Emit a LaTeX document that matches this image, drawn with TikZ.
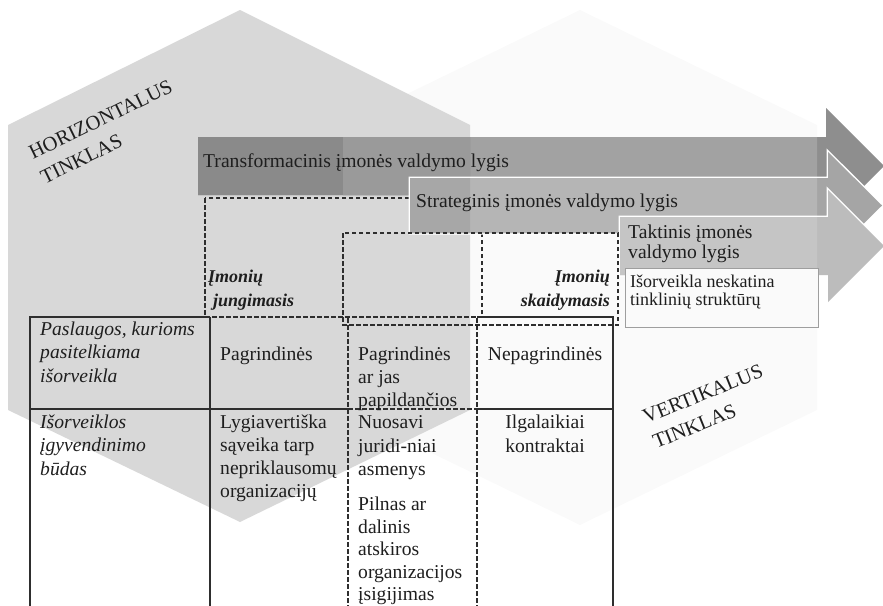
\documentclass[tikz,border=0pt]{standalone}
\usepackage{fontspec}
\setmainfont{Liberation Serif}
\definecolor{ink}{HTML}{1E1E1E}
\definecolor{rule}{HTML}{2E2E2E}
\definecolor{hexL}{HTML}{D8D8D8}
\definecolor{hexR}{HTML}{FAFAFA}
% arrow tones: over white / right field / left field / both fields
\definecolor{aOneW}{HTML}{8E8E8E}
\definecolor{aOneR}{HTML}{A2A2A2}
\definecolor{aOneL}{HTML}{8A8A8A}
\definecolor{aOneB}{HTML}{9A9A9A}
\definecolor{aTwoW}{HTML}{A5A5A5}
\definecolor{aTwoR}{HTML}{B5B5B5}
\definecolor{aTwoB}{HTML}{A7A7A7}
\definecolor{aThreeW}{HTML}{BCBCBC}
\definecolor{aThreeR}{HTML}{C5C5C5}
\begin{document}
\begin{tikzpicture}[x=1pt,y=-1pt,
  body/.style={font=\fontsize{19.6}{23}\selectfont, text=ink, inner sep=0pt, anchor=base west},
  bodyit/.style={body, font=\fontsize{19.6}{23}\selectfont\itshape},
  bodyc/.style={body, anchor=base},
  small/.style={body, font=\fontsize{18}{18}\selectfont},
  merge/.style={body, font=\fontsize{18}{24}\selectfont\bfseries\itshape},
  mergeR/.style={merge, anchor=base east},
  net/.style={body, font=\fontsize{20.5}{27}\selectfont},
  solidrule/.style={draw=rule, line width=1.2pt},
  dashrule/.style={draw=rule, line width=1.1pt, dash pattern=on 4.5pt off 2.5pt},
  outline/.style={draw=white, line width=3pt, line join=miter}]
\useasboundingbox (0,0) rectangle (883,605);

% hexagon corners
\coordinate (L1) at (240,10);  \coordinate (L2) at (470,125);
\coordinate (L3) at (470,410); \coordinate (L4) at (240,522);
\coordinate (L5) at (8,410);   \coordinate (L6) at (8,125);
\coordinate (R1) at (580,10);  \coordinate (R2) at (817,125);
\coordinate (R3) at (817,410); \coordinate (R4) at (580,525);
\coordinate (R5) at (343,410); \coordinate (R6) at (343,125);
\def\HexLeft{(L1) -- (L2) -- (L3) -- (L4) -- (L5) -- (L6) -- cycle}
\def\HexRight{(R1) -- (R2) -- (R3) -- (R4) -- (R5) -- (R6) -- cycle}

% the two networks
\fill[hexR] \HexRight;
\fill[hexL] \HexLeft;

% merging frame
\draw[dashrule] (205,198) rectangle (482,317);

% management level arrows
\def\ArrowOne{(198,137) -- (826,137) -- (826,108) -- (884,166) -- (826,224) -- (826,195) -- (198,195) -- cycle}
\def\ArrowTwo{(410,178) -- (828,178) -- (828,152) -- (882,205.5) -- (828,259) -- (828,233) -- (410,233) -- cycle}
\def\ArrowThree{(620,217) -- (828,217) -- (828,190) -- (884,246) -- (828,302) -- (828,275) -- (620,275) -- cycle}

\fill[aOneW] \ArrowOne;
\begin{scope}\clip \HexRight; \fill[aOneR] \ArrowOne; \end{scope}
\begin{scope}\clip \HexLeft; \fill[aOneL] \ArrowOne; \end{scope}
\begin{scope}\clip \HexLeft; \clip \HexRight; \fill[aOneB] \ArrowOne; \end{scope}

\path[outline] \ArrowTwo;
\fill[aTwoW] \ArrowTwo;
\begin{scope}\clip \HexRight; \fill[aTwoR] \ArrowTwo; \end{scope}
\begin{scope}\clip \HexLeft; \clip \HexRight; \fill[aTwoB] \ArrowTwo; \end{scope}

\path[outline] \ArrowThree;
\fill[aThreeW] \ArrowThree;
\begin{scope}\clip \HexRight; \fill[aThreeR] \ArrowThree; \end{scope}

% splitting frame
\draw[dashrule] (343,233) rectangle (618,325);

% note box inside the tactical arrow
\draw[draw=black!38, fill=white!98!black, line width=0.8pt] (625,268) rectangle (818,327);

% table rules
\draw[solidrule] (30,610) -- (30,317) -- (210,317);
\draw[solidrule] (210,317) -- (210,610);
\draw[solidrule] (477,317) -- (613,317) -- (613,610);
\draw[solidrule] (30,409) -- (348,409);
\draw[solidrule] (477,409) -- (613,409);
\draw[dashrule] (348,318) -- (348,610);
\draw[dashrule] (477,318) -- (477,610);
\draw[dashrule] (348,409) -- (477,409);

% arrow labels
\node[body] (trans) at (203,167) {Transformacinis įmonės valdymo lygis};
\node[body] (strat) at (416,207) {Strateginis įmonės valdymo lygis};
\node[body] (takt1) at (628,238) {Taktinis įmonės};
\node[body] (takt2) at (628,258) {valdymo lygis};
\node[small] (note1) at (630,287) {Išorveikla neskatina};
\node[small] (note2) at (630,305) {tinklinių struktūrų};

% network names
\node[net, rotate=26] (hor1) at (33,160) {HORIZONTALUS};
\node[net, rotate=26] (hor2) at (44.8,184.3) {TINKLAS};
\node[net, rotate=22] (ver1) at (646,424) {VERTIKALUS};
\node[net, rotate=22] (ver2) at (656.1,449) {TINKLAS};

% frame captions
\node[merge] (jung1) at (208,282) {Įmonių};
\node[merge] (jung2) at (213,306) {jungimasis};
\node[mergeR] (skai1) at (610,282) {Įmonių};
\node[mergeR] (skai2) at (610,306) {skaidymasis};

% first row
\node[bodyit] (c11a) at (40,335) {Paslaugos, kurioms};
\node[bodyit] (c11b) at (40,358) {pasitelkiama};
\node[bodyit] (c11c) at (40,382) {išorveikla};
\node[body] (c12) at (220,360) {Pagrindinės};
\node[body] (c13a) at (358,360) {Pagrindinės};
\node[body] (c13b) at (358,383) {ar jas};
\node[body] (c13c) at (358,406) {papildančios};
\node[bodyc] (c14) at (545,360) {Nepagrindinės};

% second row
\node[bodyit] (c21a) at (40,428) {Išorveiklos};
\node[bodyit] (c21b) at (40,451) {įgyvendinimo};
\node[bodyit] (c21c) at (40,475) {būdas};
\node[body] (c22a) at (220,428) {Lygiavertiška};
\node[body] (c22b) at (220,451) {sąveika tarp};
\node[body] (c22c) at (220,474) {nepriklausomų};
\node[body] (c22d) at (220,497) {organizacijų};
\node[body] (c23a) at (358,428) {Nuosavi};
\node[body] (c23b) at (358,452) {juridi-niai};
\node[body] (c23c) at (358,475) {asmenys};
\node[body] (c23d) at (358,510) {Pilnas ar};
\node[body] (c23e) at (358,533) {dalinis};
\node[body] (c23f) at (358,555) {atskiros};
\node[body] (c23g) at (358,578) {organizacijos};
\node[body] (c23h) at (358,600) {įsigijimas};
\node[bodyc] (c24a) at (545,428) {Ilgalaikiai};
\node[bodyc] (c24b) at (545,452) {kontraktai};
\end{tikzpicture}
\end{document}
